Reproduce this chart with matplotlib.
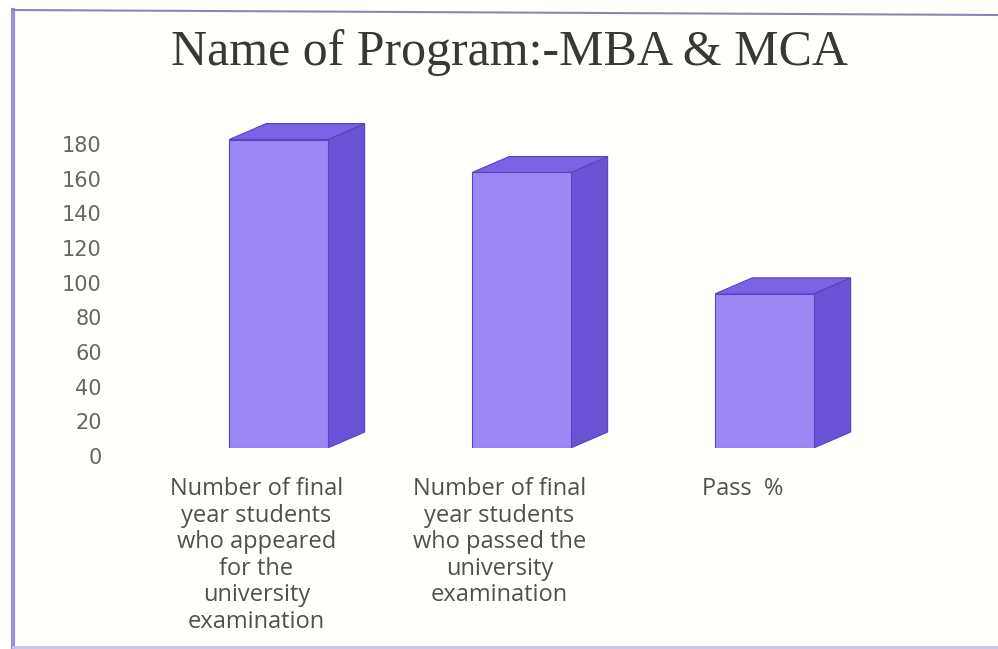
import matplotlib
matplotlib.use("Agg")
import matplotlib.pyplot as plt
from matplotlib.patches import Polygon
from matplotlib.lines import Line2D
import matplotlib.transforms as mtransforms

# ---- data ----
title = "Name of Program:-MBA & MCA"
categories = [
    "Number of final\nyear students\nwho appeared\nfor the\nuniversity\nexamination",
    "Number of final\nyear students\nwho passed the\nuniversity\nexamination",
    "Pass  %",
]
values = [178, 159, 89]
yticks = [0, 20, 40, 60, 80, 100, 120, 140, 160, 180]

# ---- style ----
W, H = 998, 649
FRONT = "#9c88f4"
SIDE = "#6a52d4"
TOP = "#7b62e2"
EDGE = "#5a42c0"
bar_w = 0.405
dx, dy = 0.152, 9.2

fig = plt.figure(figsize=(W / 100, H / 100), dpi=100)
fig.patch.set_facecolor("#fffffc")

ax_l, ax_r, ax_b, ax_t = 110, 900, 448, 100
ax = fig.add_axes([ax_l / W, 1 - ax_b / H, (ax_r - ax_l) / W, (ax_b - ax_t) / H])
ax.set_facecolor("none")
px_per_unit_y = 1.733
px_per_unit_x = 243.0
ax.set_ylim(0, (ax_b - ax_t) / px_per_unit_y)
ax.set_xlim(-(278.5 - ax_l) / px_per_unit_x, 2 + (ax_r - 764.5) / px_per_unit_x)

xs = list(range(len(values)))
ax.bar(xs, values, width=bar_w, color=FRONT, edgecolor=EDGE, linewidth=0.8, zorder=3)
for x, v in zip(xs, values):
    r = x + bar_w / 2
    l = x - bar_w / 2
    side = Polygon([(r, 0), (r + dx, dy), (r + dx, v + dy), (r, v)], closed=True,
                   facecolor=SIDE, edgecolor=EDGE, linewidth=0.8, zorder=2)
    top = Polygon([(l, v), (l + dx, v + dy), (r + dx, v + dy), (r, v)], closed=True,
                  facecolor=TOP, edgecolor=EDGE, linewidth=0.8, zorder=2)
    ax.add_patch(side)
    ax.add_patch(top)

for s in ax.spines.values():
    s.set_visible(False)

ax.set_yticks(yticks)
ax.set_yticklabels([str(t) for t in yticks], family="DejaVu Sans", fontsize=15,
                   color="#666666")
ax.tick_params(axis="y", length=0, pad=6)
off_y = mtransforms.ScaledTranslation(0, -8 / 100, fig.dpi_scale_trans)
for lab in ax.get_yticklabels():
    lab.set_transform(lab.get_transform() + off_y)

ax.set_xticks(xs)
ax.set_xticklabels(categories, family="Open Sans", fontsize=17, color="#505050",
                   linespacing=1.14, multialignment="center")
ax.tick_params(axis="x", length=0, pad=21)
off_x = mtransforms.ScaledTranslation(-22 / 100, 0, fig.dpi_scale_trans)
for lab in ax.get_xticklabels():
    lab.set_transform(lab.get_transform() + off_x)

fig.text(510 / W, 1 - 53 / H, title, family="Liberation Serif", fontsize=36,
         color="#383838", ha="center", va="center")

# frame
def px(x, y):
    return x / W, 1 - y / H

fig.add_artist(Line2D(*zip(px(13, 10), px(13, 648)), color="#9d8fe0", lw=3, transform=fig.transFigure))
fig.add_artist(Line2D(*zip(px(13, 10), px(998, 15)), color="#8a88b0", lw=1.5, transform=fig.transFigure))
fig.add_artist(Line2D(*zip(px(13, 647), px(998, 647)), color="#c8c0f0", lw=2, transform=fig.transFigure))

fig.savefig("out.png", dpi=100, facecolor=fig.get_facecolor())
